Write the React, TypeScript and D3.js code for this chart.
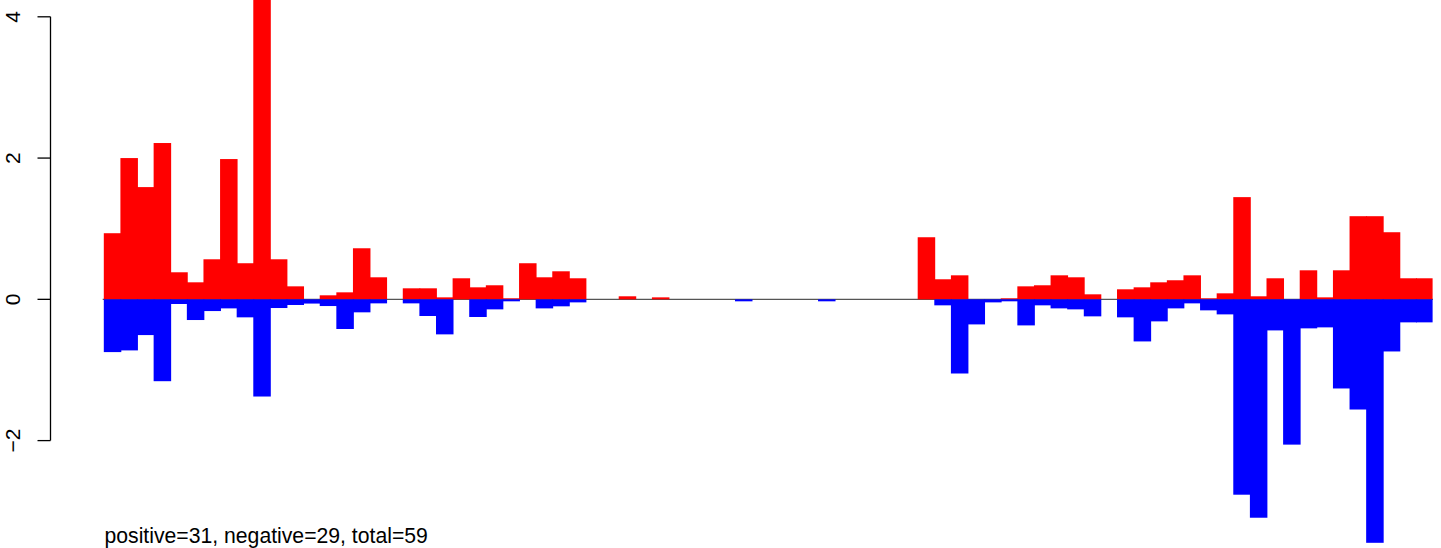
import React from "react";
import * as d3 from "d3";

const positives: number[] = [
  0.936, 2.0, 1.589, 2.213, 0.383, 0.241, 0.567, 1.986, 0.511, 4.6,
  0.567, 0.184, 0, 0.057, 0.099, 0.723, 0.312, 0, 0.156, 0.156,
  0.028, 0.298, 0.17, 0.199, 0.014, 0.511, 0.312, 0.397, 0.298, 0,
  0, 0.043, 0, 0.028, 0, 0, 0, 0, 0, 0,
  0, 0, 0, 0, 0, 0, 0, 0, 0, 0.879,
  0.284, 0.34, 0, 0, 0.014, 0.184, 0.199, 0.34, 0.312, 0.071,
  0, 0.142, 0.17, 0.241, 0.27, 0.34, 0.014, 0.085, 1.447, 0.043,
  0.298, 0, 0.411, 0.028, 0.411, 1.177, 1.177, 0.95, 0.298, 0.298,
];

const negatives: number[] = [
  -0.747, -0.723, -0.506, -1.159, -0.066, -0.293, -0.166, -0.128, -0.255, -1.376,
  -0.123, -0.08, -0.06, -0.095, -0.42, -0.184, -0.057, 0, -0.057, -0.236,
  -0.496, 0, -0.25, -0.142, -0.028, 0, -0.128, -0.099, -0.043, 0,
  0, 0, 0, 0, 0, 0, 0, 0, -0.028, 0,
  0, 0, 0, -0.028, 0, 0, 0, 0, 0, 0,
  -0.085, -1.05, -0.355, -0.043, -0.028, -0.369, -0.085, -0.128, -0.142, -0.241,
  0, -0.255, -0.596, -0.312, -0.128, -0.057, -0.156, -0.213, -2.766, -3.092,
  -0.44, -2.057, -0.411, -0.397, -1.262, -1.56, -3.447, -0.738, -0.326, -0.326,
];

const yTicks: number[] = [-2, 0, 2, 4];
const yTickLabels: string[] = ["\u22122", "0", "2", "4"];
const caption = "positive=31, negative=29, total=59";

const W = 1441;
const H = 548;
const FONT = "'Liberation Sans', Arial, Helvetica, sans-serif";

export default function App() {
  const idx = positives.map((_, i) => i);
  const x = d3.scaleBand<number>().domain(idx).range([103.8, 1432.6]).paddingInner(0).paddingOuter(0);
  const y = d3.scaleLinear().domain([-2, 4]).range([440.6, 16.8]);
  const y0 = y(0);
  const axisX = 50.5;
  const bw = x.bandwidth();

  return (
    <svg
      width={W}
      height={H}
      style={{ position: "absolute", left: 0, top: 0, background: "#fff" }}
      xmlns="http://www.w3.org/2000/svg"
    >
      <rect x={0} y={0} width={W} height={H} fill="#fff" />
      <line x1={102.7} x2={1433} y1={y0} y2={y0} stroke="#555" strokeWidth={1.2} />
      <g>
        {positives.map((v, i) =>
          v > 0 ? (
            <rect
              key={"p" + i}
              x={x(i)!}
              width={i === positives.length - 1 ? bw : bw + 0.9}
              y={Math.max(0, y(v))}
              height={y0 - Math.max(0, y(v))}
              fill="#ff0000"
            />
          ) : null
        )}
        {negatives.map((v, i) =>
          v < 0 ? (
            <rect
              key={"n" + i}
              x={x(i)!}
              width={i === negatives.length - 1 ? bw : bw + 0.9}
              y={y0}
              height={y(v) - y0}
              fill="#0000ff"
            />
          ) : null
        )}
      </g>
      <g>
        <line x1={axisX} x2={axisX} y1={y(4)} y2={y(-2)} stroke="#000" strokeWidth={1.3} />
        {yTicks.map((t, i) => (
          <g key={t}>
            <line x1={37.5} x2={axisX} y1={y(t)} y2={y(t)} stroke="#000" strokeWidth={1.3} />
            <text
              transform={`translate(20,${y(t)}) rotate(-90)`}
              textAnchor="middle"
              fontFamily={FONT}
              fontSize={21}
              fill="#000"
            >
              {yTickLabels[i]}
            </text>
          </g>
        ))}
      </g>
      <text x={104.5} y={543} fontFamily={FONT} fontSize={21.2} fill="#000">
        {caption}
      </text>
    </svg>
  );
}
